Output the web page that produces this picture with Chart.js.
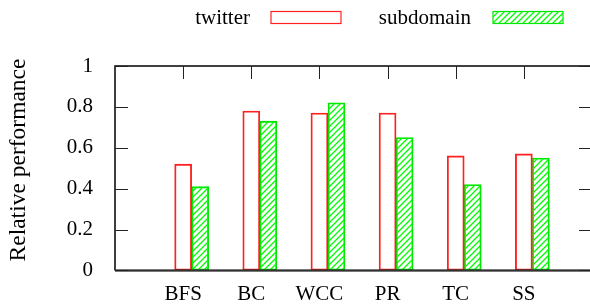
<!DOCTYPE html>
<html>
<head>
<meta charset="utf-8">
<script src="https://cdn.jsdelivr.net/npm/chart.js@4.4.1/dist/chart.umd.min.js"></script>
<style>
html,body{margin:0;padding:0;background:#fff;overflow:hidden;}
#wrap{width:600px;height:305px;position:relative;}
</style>
</head>
<body>
<div id="wrap"><canvas id="c" width="600" height="305"></canvas></div>
<script>
// ---- data ----
const categories = ['BFS', 'BC', 'WCC', 'PR', 'TC', 'SS'];
const twitter = [0.52, 0.78, 0.77, 0.77, 0.56, 0.57];
const subdomain = [0.41, 0.73, 0.82, 0.65, 0.42, 0.55];
const seriesNames = ['twitter', 'subdomain'];
const yTicks = [0, 0.2, 0.4, 0.6, 0.8, 1];
const yTitle = 'Relative performance';

const FONT = "'Liberation Serif', 'Times New Roman', serif";
const RED = '#ff2020';
const GREEN = '#00e600';

function hatch() {
  const s = 6;
  const p = document.createElement('canvas');
  p.width = s; p.height = s;
  const g = p.getContext('2d');
  g.strokeStyle = '#00ff00';
  g.lineWidth = 1.3;
  g.beginPath();
  g.moveTo(0, s); g.lineTo(s, 0);
  g.moveTo(-1, 1); g.lineTo(1, -1);
  g.moveTo(s - 1, s + 1); g.lineTo(s + 1, s - 1);
  g.stroke();
  return document.getElementById('c').getContext('2d').createPattern(p, 'repeat');
}

const framePlugin = {
  id: 'frame',
  afterDatasetsDraw(chart) {
    const ctx = chart.ctx;
    const a = chart.chartArea;
    const xs = chart.scales.x, ys = chart.scales.y;
    ctx.save();
    ctx.strokeStyle = '#000';
    ctx.lineWidth = 1.5;
    ctx.beginPath();
    ctx.moveTo(a.left, a.bottom); ctx.lineTo(a.left, a.top);
    ctx.lineTo(a.right, a.top); ctx.lineTo(a.right, a.bottom);
    ctx.lineTo(a.left, a.bottom);
    ctx.stroke();
    ctx.strokeStyle = '#333';
    ctx.lineWidth = 2;
    ctx.beginPath();
    ctx.moveTo(a.left, a.bottom); ctx.lineTo(a.right, a.bottom);
    ctx.stroke();
    ctx.lineWidth = 1;
    ctx.strokeStyle = '#222';
    ctx.beginPath();
    yTicks.forEach(v => {
      const y = Math.round(ys.getPixelForValue(v)) + 0.5;
      ctx.moveTo(a.left, y); ctx.lineTo(a.left + 13, y);
      ctx.moveTo(a.right, y); ctx.lineTo(a.right - 13, y);
    });
    categories.forEach((c, i) => {
      const x = Math.round(xs.getPixelForValue(i)) + 0.5;
      ctx.moveTo(x, a.top); ctx.lineTo(x, a.top + 13);
    });
    ctx.stroke();
    ctx.restore();
  },
  afterDraw(chart) {
    const ctx = chart.ctx;
    ctx.save();
    ctx.font = '21px ' + FONT;
    ctx.fillStyle = '#000';
    ctx.textAlign = 'right';
    ctx.textBaseline = 'alphabetic';
    ctx.fillText(seriesNames[0], 250, 24);
    ctx.fillText(seriesNames[1], 471, 24);
    ctx.lineWidth = 1.2;
    ctx.strokeStyle = RED;
    ctx.strokeRect(271, 11.5, 70, 12);
    ctx.fillStyle = chart.data.datasets[1].backgroundColor;
    ctx.fillRect(493, 11.5, 70, 12);
    ctx.strokeStyle = GREEN;
    ctx.strokeRect(493, 11.5, 70, 12);
    // y-axis title
    ctx.translate(19, 160);
    ctx.rotate(-Math.PI / 2);
    ctx.font = '23.5px ' + FONT;
    ctx.fillStyle = '#000';
    ctx.textAlign = 'center';
    ctx.textBaseline = 'middle';
    ctx.fillText(yTitle, 0, 0);
    ctx.restore();
  }
};

const ctx = document.getElementById('c').getContext('2d');
new Chart(ctx, {
  type: 'bar',
  data: {
    datasets: [
      {
        label: seriesNames[0],
        data: twitter.map((v, i) => ({x: i, y: v})),
        backgroundColor: 'rgba(0,0,0,0)',
        borderColor: RED,
        borderWidth: 1.2,
        borderSkipped: false,
        barThickness: 17,
        grouped: false
      },
      {
        label: seriesNames[1],
        data: subdomain.map((v, i) => ({x: i + 0.25, y: v})),
        backgroundColor: hatch(),
        borderColor: GREEN,
        borderWidth: 1.2,
        borderSkipped: false,
        barThickness: 17,
        grouped: false
      }
    ]
  },
  options: {
    responsive: false,
    animation: false,
    devicePixelRatio: 1,
    layout: {padding: {top: 66, right: 8, left: 0, bottom: 0}},
    plugins: {legend: {display: false}, tooltip: {enabled: false}},
    scales: {
      x: {
        type: 'linear',
        min: -1, max: 6,
        offset: false,
        grid: {display: false, drawTicks: false},
        border: {display: false},
        afterFit(s) { s.height = 33; },
        afterBuildTicks(s) { s.ticks = categories.map((c, i) => ({value: i})); },
        ticks: {
          color: '#000',
          font: {family: FONT, size: 21},
          padding: 11,
          autoSkip: false,
          maxRotation: 0,
          callback: (v) => categories[v] !== undefined ? categories[v] : ''
        }
      },
      y: {
        min: 0, max: 1,
        grid: {display: false, drawTicks: false},
        border: {display: false},
        afterFit(s) { s.width = 115; },
        afterBuildTicks(s) { s.ticks = yTicks.map(v => ({value: v})); },
        ticks: {
          color: '#000',
          font: {family: FONT, size: 21},
          padding: 22,
          callback: (v) => String(v)
        },
        title: {display: false}
      }
    }
  },
  plugins: [framePlugin]
});
</script>
</body>
</html>
